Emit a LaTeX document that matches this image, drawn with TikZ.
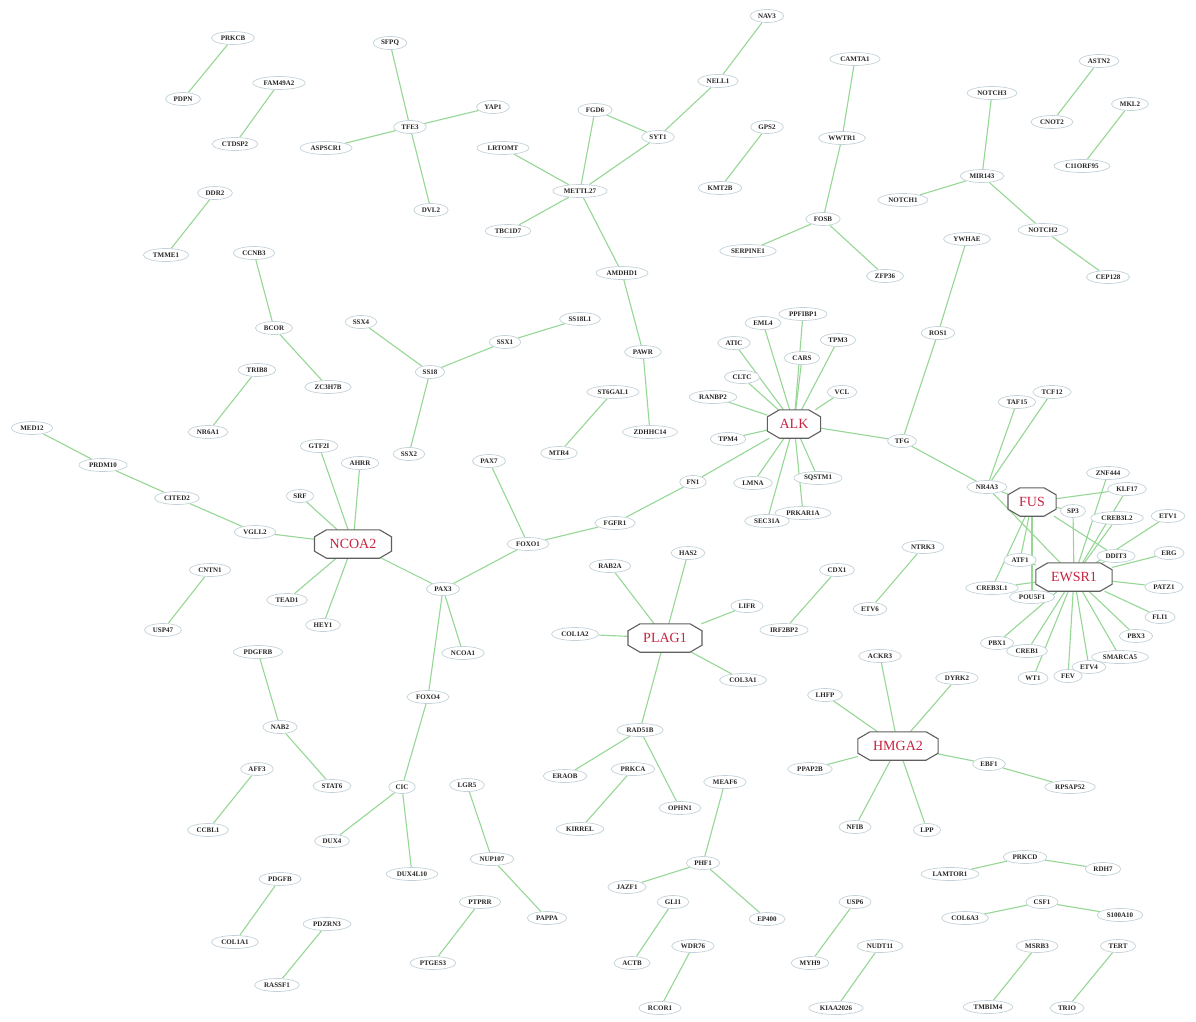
\documentclass[tikz,border=0pt]{standalone}
\usepackage{fontspec}
\setmainfont{Liberation Serif}
\usetikzlibrary{shapes.geometric}
\definecolor{linkgreen}{RGB}{150,215,150}
\definecolor{nodeline}{RGB}{195,210,218}
\definecolor{hubline}{RGB}{95,95,95}
\definecolor{hubtext}{RGB}{200,35,65}
\pgfdeclarelayer{bglayer}
\pgfdeclarelayer{edgelayer}
\pgfdeclarelayer{hublayer}
\pgfsetlayers{bglayer,edgelayer,hublayer,main}
% an octagonal hub: invisible rectangle node with a chamfered outline behind it
\newcommand\hubnode[4][]{%
  \node[hub,#1] (#2) at (#3) {#4};
  \begin{pgfonlayer}{hublayer}
    \draw[hubshape] ([xshift=12pt]#2.north west) -- ([xshift=-12pt]#2.north east)
      -- ([yshift=-7pt]#2.north east) -- ([yshift=7pt]#2.south east)
      -- ([xshift=-12pt]#2.south east) -- ([xshift=12pt]#2.south west)
      -- ([yshift=7pt]#2.south west) -- ([yshift=-7pt]#2.north west) -- cycle;
  \end{pgfonlayer}}
\begin{document}
\begin{tikzpicture}[x=1pt,y=-1pt,
  gn/.style={ellipse, draw=nodeline, line width=0.7pt, fill=white,
    inner xsep=3pt, inner ysep=1pt, minimum height=13pt,
    font=\fontsize{7}{7}\selectfont\bfseries, text=black!85},
  hub/.style={rectangle, minimum height=28pt, inner xsep=15pt,
    font=\fontsize{14}{14}\selectfont, text=hubtext},
  hubshape/.style={draw=hubline, line width=1.1pt, fill=white},
  lk/.style={draw=linkgreen, line width=1.1pt}]
\begin{pgfonlayer}{bglayer}
\fill[white] (0,0) rectangle (1196,1022);
\end{pgfonlayer}
\useasboundingbox (0,0) rectangle (1196,1022);

% hubs
\hubnode{NCOA2}{353,544}{NCOA2}
\hubnode[inner xsep=12pt]{ALK}{794,424}{ALK}
\hubnode{PLAG1}{665,638}{PLAG1}
\hubnode[inner xsep=11pt]{FUS}{1032,502}{FUS}
\hubnode{EWSR1}{1074,577}{EWSR1}
\hubnode{HMGA2}{898,746}{HMGA2}

% left column
\node[gn] (PRKCB) at (233,38) {PRKCB};
\node[gn] (PDPN) at (183,99) {PDPN};
\node[gn] (FAM49A2) at (279,83) {FAM49A2};
\node[gn] (CTDSP2) at (235,144) {CTDSP2};
\node[gn] (DDR2) at (215,193) {DDR2};
\node[gn] (TMME1) at (166,255) {TMME1};
\node[gn] (CCNB3) at (254,253) {CCNB3};
\node[gn] (BCOR) at (274,328) {BCOR};
\node[gn] (ZC3H7B) at (328,387) {ZC3H7B};
\node[gn] (TRIB8) at (257,370) {TRIB8};
\node[gn] (NR6A1) at (208,432) {NR6A1};
\node[gn] (MED12) at (32,428) {MED12};
\node[gn] (PRDM10) at (103,465) {PRDM10};
\node[gn] (CITED2) at (177,498) {CITED2};
\node[gn] (VGLL2) at (255,532) {VGLL2};
\node[gn] (SRF) at (300,496) {SRF};
\node[gn] (GTF2I) at (319,446) {GTF2I};
\node[gn] (AHRR) at (360,463) {AHRR};
\node[gn] (TEAD1) at (287,600) {TEAD1};
\node[gn] (HEY1) at (323,625) {HEY1};
\node[gn] (CNTN1) at (210,570) {CNTN1};
\node[gn] (USP47) at (163,630) {USP47};
\node[gn] (PDGFRB) at (258,652) {PDGFRB};
\node[gn] (NAB2) at (280,727) {NAB2};
\node[gn] (STAT6) at (332,786) {STAT6};
\node[gn] (AFF3) at (257,769) {AFF3};
\node[gn] (CCBL1) at (208,830) {CCBL1};
\node[gn] (PDGFB) at (280,879) {PDGFB};
\node[gn] (COL1A1) at (235,942) {COL1A1};
\node[gn] (PDZRN3) at (327,924) {PDZRN3};
\node[gn] (RASSF1) at (277,985) {RASSF1};

% upper middle
\node[gn] (SFPQ) at (390,43) {SFPQ};
\node[gn] (TFE3) at (410,127) {TFE3};
\node[gn] (YAP1) at (493,107) {YAP1};
\node[gn] (ASPSCR1) at (326,148) {ASPSCR1};
\node[gn] (DVL2) at (431,210) {DVL2};
\node[gn] (SSX4) at (361,322) {SSX4};
\node[gn] (SS18) at (430,372) {SS18};
\node[gn] (SSX1) at (505,342) {SSX1};
\node[gn] (SS18L1) at (580,319) {SS18L1};
\node[gn] (SSX2) at (409,454) {SSX2};
\node[gn] (LRTOMT) at (503,148) {LRTOMT};
\node[gn] (METTL27) at (580,191) {METTL27};
\node[gn] (TBC1D7) at (508,231) {TBC1D7};
\node[gn] (FGD6) at (595,110) {FGD6};
\node[gn] (SYT1) at (658,137) {SYT1};
\node[gn] (NELL1) at (718,81) {NELL1};
\node[gn] (NAV3) at (767,16) {NAV3};
\node[gn] (AMDHD1) at (622,273) {AMDHD1};
\node[gn] (PAWR) at (643,352) {PAWR};
\node[gn] (ZDHHC14) at (650,432) {ZDHHC14};
\node[gn] (ST6GAL1) at (613,392) {ST6GAL1};
\node[gn] (MTR4) at (559,453) {MTR4};
\node[gn] (GPS2) at (767,127) {GPS2};
\node[gn] (KMT2B) at (720,188) {KMT2B};
\node[gn] (CAMTA1) at (855,59) {CAMTA1};
\node[gn] (WWTR1) at (842,138) {WWTR1};
\node[gn] (FOSB) at (823,219) {FOSB};
\node[gn] (SERPINE1) at (748,251) {SERPINE1};
\node[gn] (ZFP36) at (885,276) {ZFP36};

% upper right
\node[gn] (NOTCH3) at (992,93) {NOTCH3};
\node[gn] (MIR143) at (982,176) {MIR143};
\node[gn] (NOTCH1) at (903,200) {NOTCH1};
\node[gn] (NOTCH2) at (1043,230) {NOTCH2};
\node[gn] (CEP128) at (1108,277) {CEP128};
\node[gn] (ASTN2) at (1099,61) {ASTN2};
\node[gn] (CNOT2) at (1052,122) {CNOT2};
\node[gn] (MKL2) at (1130,104) {MKL2};
\node[gn] (C11orf95) at (1082,166) {C11ORF95};
\node[gn] (YWHAE) at (967,239) {YWHAE};
\node[gn] (ROS1) at (938,333) {ROS1};
\node[gn] (TFG) at (902,441) {TFG};

% ALK partners
\node[gn] (ATIC) at (734,343) {ATIC};
\node[gn] (EML4) at (763,323) {EML4};
\node[gn] (PPFIBP1) at (803,314) {PPFIBP1};
\node[gn] (TPM3) at (838,340) {TPM3};
\node[gn] (CARS) at (802,358) {CARS};
\node[gn] (CLTC) at (742,377) {CLTC};
\node[gn] (VCL) at (842,392) {VCL};
\node[gn] (RANBP2) at (713,397) {RANBP2};
\node[gn] (TPM4) at (728,439) {TPM4};
\node[gn] (FN1) at (693,482) {FN1};
\node[gn] (LMNA) at (753,483) {LMNA};
\node[gn] (SQSTM1) at (818,478) {SQSTM1};
\node[gn] (PRKAR1A) at (803,513) {PRKAR1A};
\node[gn] (SEC31A) at (767,521) {SEC31A};

% PAX / FOXO chain
\node[gn] (FGFR1) at (615,523) {FGFR1};
\node[gn] (FOXO1) at (528,544) {FOXO1};
\node[gn] (PAX7) at (489,461) {PAX7};
\node[gn] (PAX3) at (443,589) {PAX3};
\node[gn] (NCOA1) at (463,653) {NCOA1};
\node[gn] (FOXO4) at (428,697) {FOXO4};
\node[gn] (CIC) at (402,787) {CIC};
\node[gn] (DUX4) at (332,841) {DUX4};
\node[gn] (DUX4L10) at (412,874) {DUX4L10};
\node[gn] (LGR5) at (467,785) {LGR5};
\node[gn] (NUP107) at (492,859) {NUP107};
\node[gn] (PAPPA) at (547,918) {PAPPA};
\node[gn] (PTPRR) at (480,902) {PTPRR};
\node[gn] (PTGES3) at (433,963) {PTGES3};

% PLAG1 partners and lower middle
\node[gn] (HAS2) at (688,553) {HAS2};
\node[gn] (RAB2A) at (610,566) {RAB2A};
\node[gn] (LIFR) at (747,606) {LIFR};
\node[gn] (COL1A2) at (575,634) {COL1A2};
\node[gn] (COL3A1) at (743,680) {COL3A1};
\node[gn] (RAD51B) at (640,730) {RAD51B};
\node[gn] (ERAOB) at (565,776) {ERAOB};
\node[gn] (PRKCA) at (633,769) {PRKCA};
\node[gn] (OPHN1) at (680,808) {OPHN1};
\node[gn] (KIRREL) at (580,829) {KIRREL};
\node[gn] (CDX1) at (837,570) {CDX1};
\node[gn] (IRF2BP2) at (784,630) {IRF2BP2};
\node[gn] (NTRK3) at (923,547) {NTRK3};
\node[gn] (ETV6) at (870,609) {ETV6};
\node[gn] (MEAF6) at (725,782) {MEAF6};
\node[gn] (PHF1) at (703,863) {PHF1};
\node[gn] (JAZF1) at (627,887) {JAZF1};
\node[gn] (EP400) at (767,919) {EP400};
\node[gn] (GLI1) at (673,902) {GLI1};
\node[gn] (ACTB) at (632,963) {ACTB};
\node[gn] (WDR76) at (693,946) {WDR76};
\node[gn] (RCOR1) at (660,1008) {RCOR1};

% HMGA2 partners and lower right
\node[gn] (ACKR3) at (880,656) {ACKR3};
\node[gn] (LHFP) at (825,695) {LHFP};
\node[gn] (DYRK2) at (957,678) {DYRK2};
\node[gn] (PPAP2B) at (810,769) {PPAP2B};
\node[gn] (EBF1) at (989,764) {EBF1};
\node[gn] (RPSAP52) at (1070,787) {RPSAP52};
\node[gn] (NFIB) at (855,827) {NFIB};
\node[gn] (LPP) at (927,830) {LPP};
\node[gn] (USP6) at (855,902) {USP6};
\node[gn] (MYH9) at (810,963) {MYH9};
\node[gn] (NUDT11) at (880,946) {NUDT11};
\node[gn] (KIAA2026) at (836,1008) {KIAA2026};
\node[gn] (PRKCD) at (1025,857) {PRKCD};
\node[gn] (LAMTOR1) at (950,874) {LAMTOR1};
\node[gn] (RDH7) at (1103,869) {RDH7};
\node[gn] (CSF1) at (1042,902) {CSF1};
\node[gn] (COL6A3) at (965,918) {COL6A3};
\node[gn] (S100A10) at (1120,915) {S100A10};
\node[gn] (MSRB3) at (1037,946) {MSRB3};
\node[gn] (TMBIM4) at (988,1007) {TMBIM4};
\node[gn] (TERT) at (1118,946) {TERT};
\node[gn] (TRIO) at (1067,1008) {TRIO};

% FUS / EWSR1 partners
\node[gn] (NR4A3) at (987,487) {NR4A3};
\node[gn] (TAF15) at (1017,402) {TAF15};
\node[gn] (TCF12) at (1052,392) {TCF12};
\node[gn] (ZNF444) at (1108,473) {ZNF444};
\node[gn] (KLF17) at (1127,489) {KLF17};
\node[gn] (SP3) at (1073,511) {SP3};
\node[gn] (CREB3L2) at (1117,518) {CREB3L2};
\node[gn] (ETV1) at (1168,516) {ETV1};
\node[gn] (DDIT3) at (1116,556) {DDIT3};
\node[gn] (ERG) at (1169,553) {ERG};
\node[gn] (PATZ1) at (1164,587) {PATZ1};
\node[gn] (FLI1) at (1160,617) {FLI1};
\node[gn] (PBX3) at (1136,636) {PBX3};
\node[gn] (SMARCA5) at (1120,657) {SMARCA5};
\node[gn] (ETV4) at (1089,667) {ETV4};
\node[gn] (FEV) at (1068,676) {FEV};
\node[gn] (WT1) at (1033,678) {WT1};
\node[gn] (CREB1) at (1027,651) {CREB1};
\node[gn] (PBX1) at (997,643) {PBX1};
\node[gn] (POU5F1) at (1032,597) {POU5F1};
\node[gn] (CREB3L1) at (992,588) {CREB3L1};
\node[gn] (ATF1) at (1020,560) {ATF1};

\begin{pgfonlayer}{edgelayer}
\foreach \a/\b in {PRKCB/PDPN, FAM49A2/CTDSP2, DDR2/TMME1, CCNB3/BCOR,
  BCOR/ZC3H7B, TRIB8/NR6A1, MED12/PRDM10, PRDM10/CITED2, CITED2/VGLL2,
  VGLL2/NCOA2, NCOA2/SRF, NCOA2/GTF2I, NCOA2/AHRR, NCOA2/TEAD1,
  NCOA2/HEY1, NCOA2/PAX3, CNTN1/USP47, PDGFRB/NAB2, NAB2/STAT6,
  AFF3/CCBL1, PDGFB/COL1A1, PDZRN3/RASSF1,
  SFPQ/TFE3, TFE3/YAP1, TFE3/ASPSCR1, TFE3/DVL2,
  SSX4/SS18, SS18/SSX1, SSX1/SS18L1, SS18/SSX2,
  LRTOMT/METTL27, TBC1D7/METTL27, FGD6/METTL27, FGD6/SYT1, SYT1/METTL27,
  SYT1/NELL1, NELL1/NAV3, METTL27/AMDHD1, AMDHD1/PAWR, PAWR/ZDHHC14,
  ST6GAL1/MTR4, GPS2/KMT2B, CAMTA1/WWTR1, WWTR1/FOSB, FOSB/SERPINE1,
  FOSB/ZFP36, NOTCH3/MIR143, MIR143/NOTCH1, MIR143/NOTCH2, NOTCH2/CEP128,
  ASTN2/CNOT2, MKL2/C11orf95, YWHAE/ROS1, ROS1/TFG, TFG/ALK, TFG/NR4A3,
  ALK/ATIC, ALK/EML4, ALK/PPFIBP1, ALK/TPM3, ALK/CARS, ALK/CLTC, ALK/VCL,
  ALK/RANBP2, ALK/TPM4, ALK/FN1, ALK/LMNA, ALK/SQSTM1, ALK/PRKAR1A,
  ALK/SEC31A, FN1/FGFR1, FGFR1/FOXO1, FOXO1/PAX7, FOXO1/PAX3,
  PAX3/NCOA1, PAX3/FOXO4, FOXO4/CIC, CIC/DUX4, CIC/DUX4L10,
  LGR5/NUP107, NUP107/PAPPA, PTPRR/PTGES3,
  PLAG1/RAB2A, PLAG1/HAS2, PLAG1/LIFR, PLAG1/COL1A2, PLAG1/COL3A1,
  PLAG1/RAD51B, RAD51B/ERAOB, RAD51B/OPHN1, PRKCA/KIRREL,
  CDX1/IRF2BP2, NTRK3/ETV6, MEAF6/PHF1, PHF1/JAZF1, PHF1/EP400,
  GLI1/ACTB, WDR76/RCOR1,
  HMGA2/ACKR3, HMGA2/LHFP, HMGA2/DYRK2, HMGA2/PPAP2B, HMGA2/EBF1,
  HMGA2/NFIB, HMGA2/LPP, EBF1/RPSAP52, USP6/MYH9, NUDT11/KIAA2026,
  PRKCD/LAMTOR1, PRKCD/RDH7, CSF1/COL6A3, CSF1/S100A10,
  MSRB3/TMBIM4, TERT/TRIO,
  NR4A3/TAF15, NR4A3/TCF12, NR4A3/FUS, NR4A3/EWSR1,
  FUS/KLF17, FUS/SP3, FUS/DDIT3, FUS/ATF1, FUS/CREB3L1, FUS/POU5F1,
  EWSR1/ZNF444, EWSR1/KLF17, EWSR1/CREB3L2, EWSR1/SP3, EWSR1/ETV1,
  EWSR1/ERG, EWSR1/DDIT3, EWSR1/PATZ1, EWSR1/FLI1, EWSR1/PBX3,
  EWSR1/SMARCA5, EWSR1/ETV4, EWSR1/FEV, EWSR1/WT1, EWSR1/CREB1,
  EWSR1/PBX1, EWSR1/POU5F1, EWSR1/CREB3L1, EWSR1/ATF1}
  \draw[lk] (\a) -- (\b);
\end{pgfonlayer}
\end{tikzpicture}
\end{document}
